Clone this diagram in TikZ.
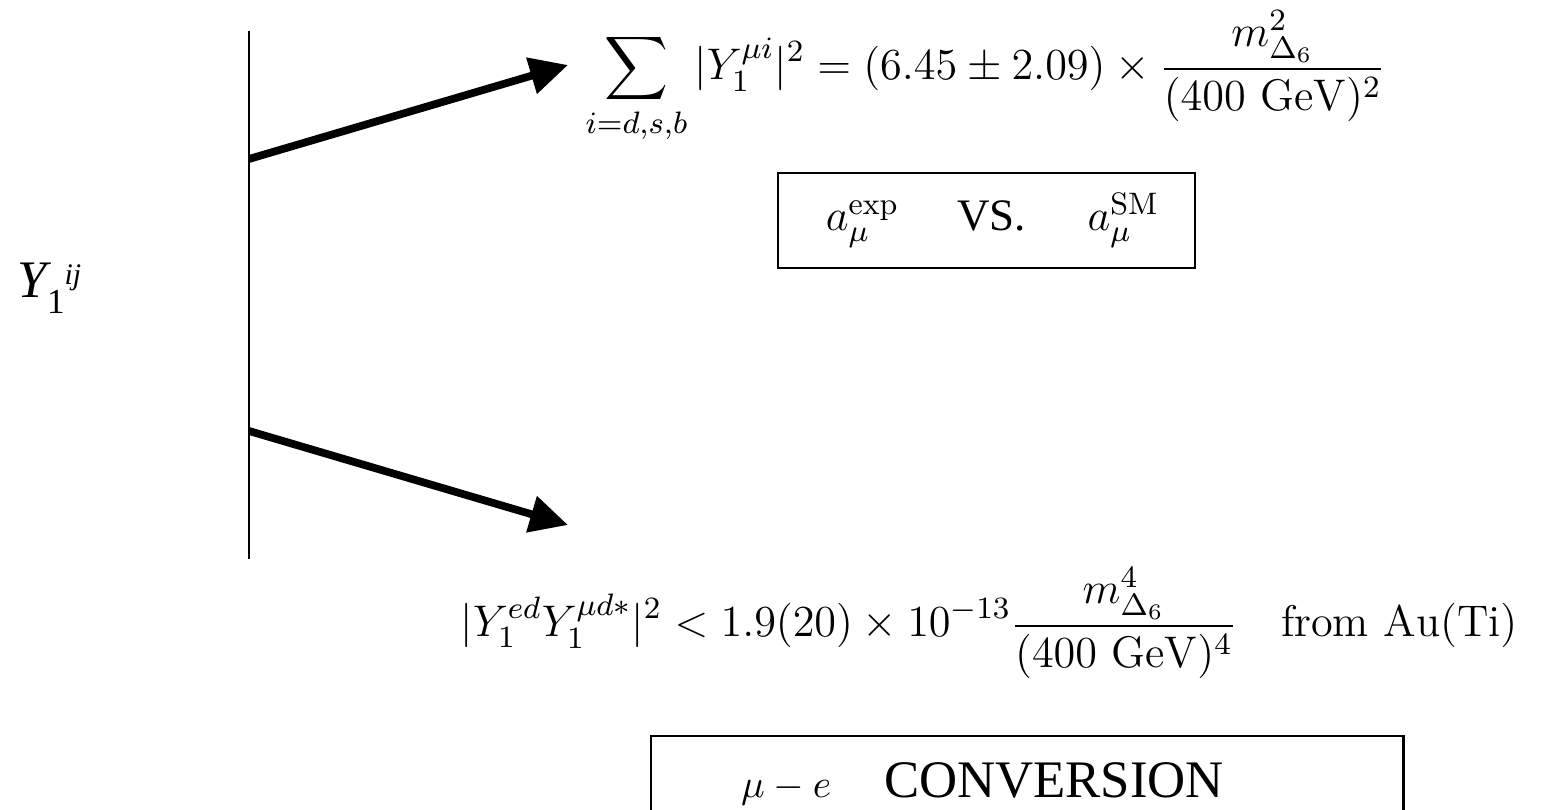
\RequirePackage{fix-cm}
\documentclass[tikz,border=0pt]{standalone}
\usepackage{amsmath, amssymb}
\usepackage{fontspec}
\usetikzlibrary{arrows.meta, positioning}
\newfontfamily\timesfont{Liberation Serif}

\tikzset{
    bigarrow/.style={line width=2.2pt, -{Triangle[length=0.38cm, width=0.36cm]}},
    resultbox/.style={draw, semithick},
    eqnode/.style={inner sep=0pt, font=\fontsize{12.6}{15}\selectfont},
    timesnode/.style={inner sep=0pt, font=\timesfont\fontsize{15}{18}\selectfont},
}

\begin{document}
\begin{tikzpicture}[x=0.01cm, y=-0.01cm]
        \useasboundingbox (0,0) rectangle (1544,810);
        \clip (0,0) rectangle (1544,810);

        % coupling and split line
        \node[timesnode, anchor=base west] (coupling) at (17,298) {\itshape Y\raisebox{-0.15cm}{\fontsize{10}{10}\selectfont\upshape 1}\raisebox{0.13cm}{\fontsize{8.5}{9}\selectfont ij}};
        \coordinate (linetop) at (249,31);
        \coordinate (linebot) at (249,559);
        \coordinate (upfork) at (249,159);
        \coordinate (downfork) at (249,431);
        \coordinate (uptip) at (568,65);
        \coordinate (downtip) at (568,525);
        \draw[semithick] (linetop) -- (linebot);

        % g-2 branch
        \node[eqnode, anchor=base west] (gminus2) at (585,80) {$\displaystyle \sum_{i=d,s,b} |Y_1^{\mu i}|^2 = (6.45 \pm 2.09) \times \frac{m^2_{\Delta_6}}{(400~\mathrm{GeV})^2}$};
        \node[resultbox, eqnode, minimum width=4.17cm, minimum height=0.95cm] (amu) at (986.5,220.5) {\hspace*{3.4pt}$a_\mu^{\mathrm{exp}}$\hspace{16.5pt}{\timesfont\fontsize{12.8}{15}\selectfont VS.}\hspace{17.5pt}$a_\mu^{\mathrm{SM}}$};
        \draw[bigarrow] (upfork) -- (uptip);

        % mu-e conversion branch
        \node[eqnode, anchor=base west] (mueconv) at (460,637) {$\displaystyle |Y_1^{ed}Y_1^{\mu d*}|^2 < 1.9(20) \times 10^{-13}\frac{m^4_{\Delta_6}}{(400~\mathrm{GeV})^4} \quad \mathrm{from~Au(Ti)}$};
        \node[resultbox, timesnode, anchor=north west, inner xsep=0.9cm, inner ysep=0pt, text width=5.72cm, align=left, text height=0.61cm, text depth=0.3cm] (conv) at (650,735) {{\fontsize{11.2}{13}\selectfont$\mu - e$}\quad CONVERSION};
        \draw[bigarrow] (downfork) -- (downtip);
    \end{tikzpicture}
\end{document}
